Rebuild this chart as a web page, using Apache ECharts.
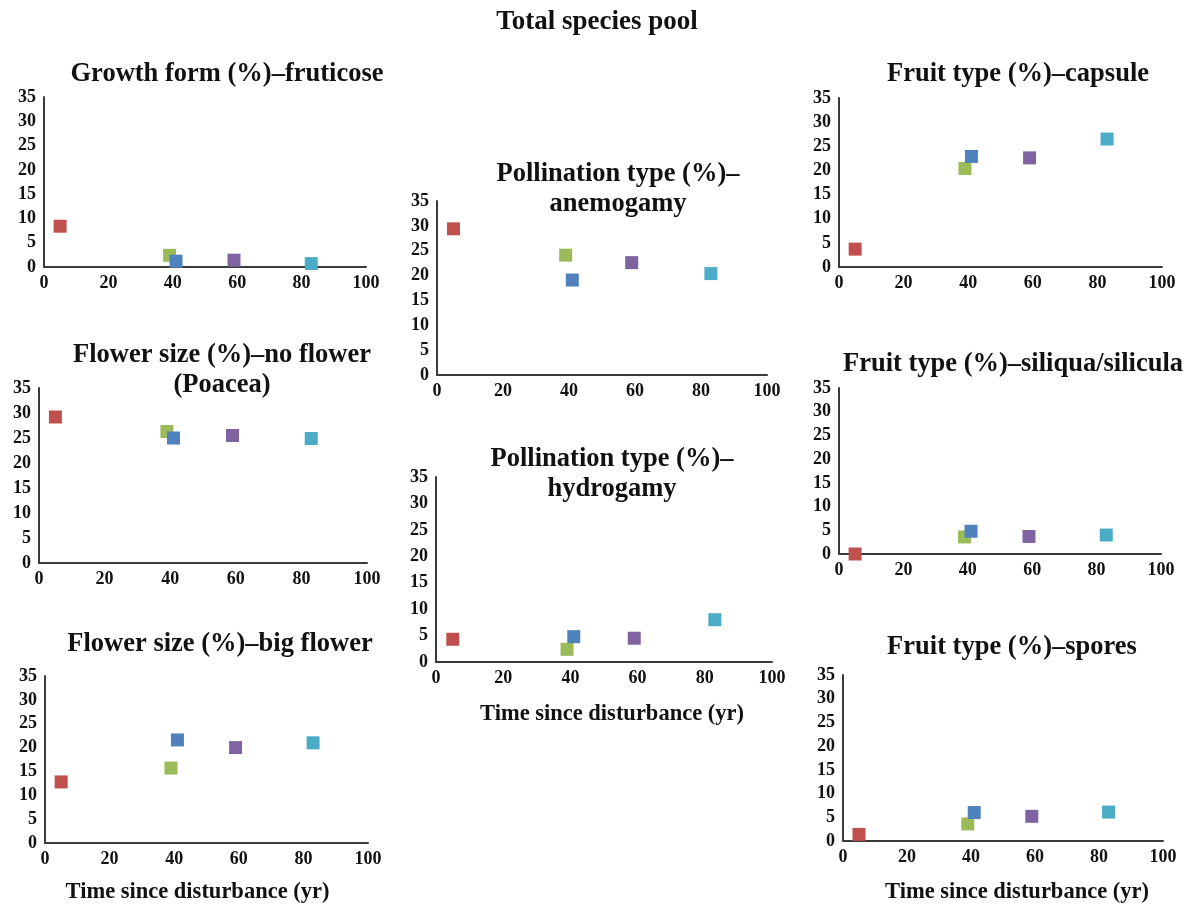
<!DOCTYPE html>
<html>
<head>
<meta charset="utf-8">
<script src="https://cdn.jsdelivr.net/npm/echarts@6/dist/echarts.min.js"></script>
<style>
  html, body { margin: 0; padding: 0; background: #fff; }
  #chart { width: 1193px; height: 905px; }
</style>
</head>
<body>
<div id="chart"></div>
<script>
// time since disturbance (yr) for the five sites
const years = [5, 39, 41, 59, 83];
const siteColors = ['#C0504D', '#9BBB59', '#4F81BD', '#8064A2', '#4BACC6'];

// values (same site order as years)
const fruticose = [8.4, 2.4, 1.2, 1.4, 0.7];
const anemogamy = [29.4, 24.1, 19.1, 22.6, 20.4];
const capsule = [3.7, 20.4, 22.9, 22.6, 26.5];
const noFlower = [29.2, 26.3, 25.0, 25.5, 24.9];
const hydrogamy = [4.3, 2.4, 4.8, 4.5, 8.0];
const siliqua = [0.0, 3.6, 4.8, 3.7, 4.0];
const bigFlower = [12.8, 15.7, 21.6, 20.0, 21.0];
const spores = [1.4, 3.6, 6.0, 5.2, 6.1];

const mainTitle = 'Total species pool';
const xName = 'Time since disturbance (yr)';

// panel layout: grid box [left, top, width, height], title centre / top, x name gap + nudge
const panels = [
  { title: 'Growth form (%)–fruticose', values: fruticose, grid: [44, 97, 322, 170], tx: 227, ty: 59 },
  { title: 'Pollination type (%)–\nanemogamy', values: anemogamy, grid: [437, 201, 330, 174], tx: 618, ty: 159 },
  { title: 'Fruit type (%)–capsule', values: capsule, grid: [839, 98, 323, 169], tx: 1018, ty: 59 },
  { title: 'Flower size (%)–no flower\n(Poacea)', values: noFlower, grid: [39, 388, 328, 175], tx: 222, ty: 340 },
  { title: 'Pollination type (%)–\nhydrogamy', values: hydrogamy, grid: [436, 477, 336, 185], tx: 612, ty: 444, xgap: 41, xshift: 8 },
  { title: 'Fruit type (%)–siliqua/silicula', values: siliqua, grid: [839, 388, 322, 166], tx: 1013, ty: 349 },
  { title: 'Flower size (%)–big flower', values: bigFlower, grid: [45, 676, 323, 169], tx: 220, ty: 629, xgap: 38, xshift: -9 },
  { title: 'Fruit type (%)–spores', values: spores, grid: [843, 675, 320, 169], tx: 1012, ty: 632, xgap: 40, xshift: 14 }
];

const font = 'Liberation Serif';
const axisColor = '#3a3a3a';

let titles = [{
  text: mainTitle,
  left: 597, top: 7, textAlign: 'center', padding: 0,
  textStyle: { fontFamily: font, fontWeight: 'bold', fontSize: 27, lineHeight: 30, color: '#111' }
}];
let grids = [], xAxes = [], yAxes = [], series = [];

panels.forEach((p, i) => {
  titles.push({
    text: p.title,
    left: p.tx, top: p.ty, textAlign: 'center', padding: 0,
    textStyle: { fontFamily: font, fontWeight: 'bold', fontSize: 26.5, lineHeight: 30, color: '#111' }
  });
  grids.push({ left: p.grid[0], top: p.grid[1], width: p.grid[2], height: p.grid[3], containLabel: false });
  let shift = p.xshift || 0;
  xAxes.push({
    type: 'value', gridIndex: i, min: 0, max: 100, interval: 20,
    name: p.xgap ? xName : '', nameLocation: 'middle', nameGap: p.xgap || 0,
    nameTextStyle: {
      fontFamily: font, fontWeight: 'bold', fontSize: 22.5, color: '#111',
      padding: shift >= 0 ? [0, 0, 0, shift * 2] : [0, -shift * 2, 0, 0]
    },
    axisLine: { onZero: false, lineStyle: { color: axisColor, width: 2 } },
    axisTick: { show: false },
    splitLine: { show: false },
    axisLabel: { fontFamily: font, fontWeight: 'bold', fontSize: 18, color: '#111', margin: 7 }
  });
  yAxes.push({
    type: 'value', gridIndex: i, min: 0, max: 35, interval: 5,
    axisLine: { show: true, lineStyle: { color: axisColor, width: 2 } },
    axisTick: { show: false },
    splitLine: { show: false },
    axisLabel: { fontFamily: font, fontWeight: 'bold', fontSize: 18, color: '#111', margin: 8 }
  });
  series.push({
    type: 'scatter', xAxisIndex: i, yAxisIndex: i,
    symbol: 'rect', symbolSize: 13,
    itemStyle: { opacity: 1 },
    data: years.map((x, k) => ({ value: [x, p.values[k]], itemStyle: { color: siteColors[k], opacity: 1 } }))
  });
});

const chart = echarts.init(document.getElementById('chart'));
chart.setOption({
  backgroundColor: '#fff',
  animation: false,
  title: titles,
  grid: grids,
  xAxis: xAxes,
  yAxis: yAxes,
  series: series
});
</script>
</body>
</html>
